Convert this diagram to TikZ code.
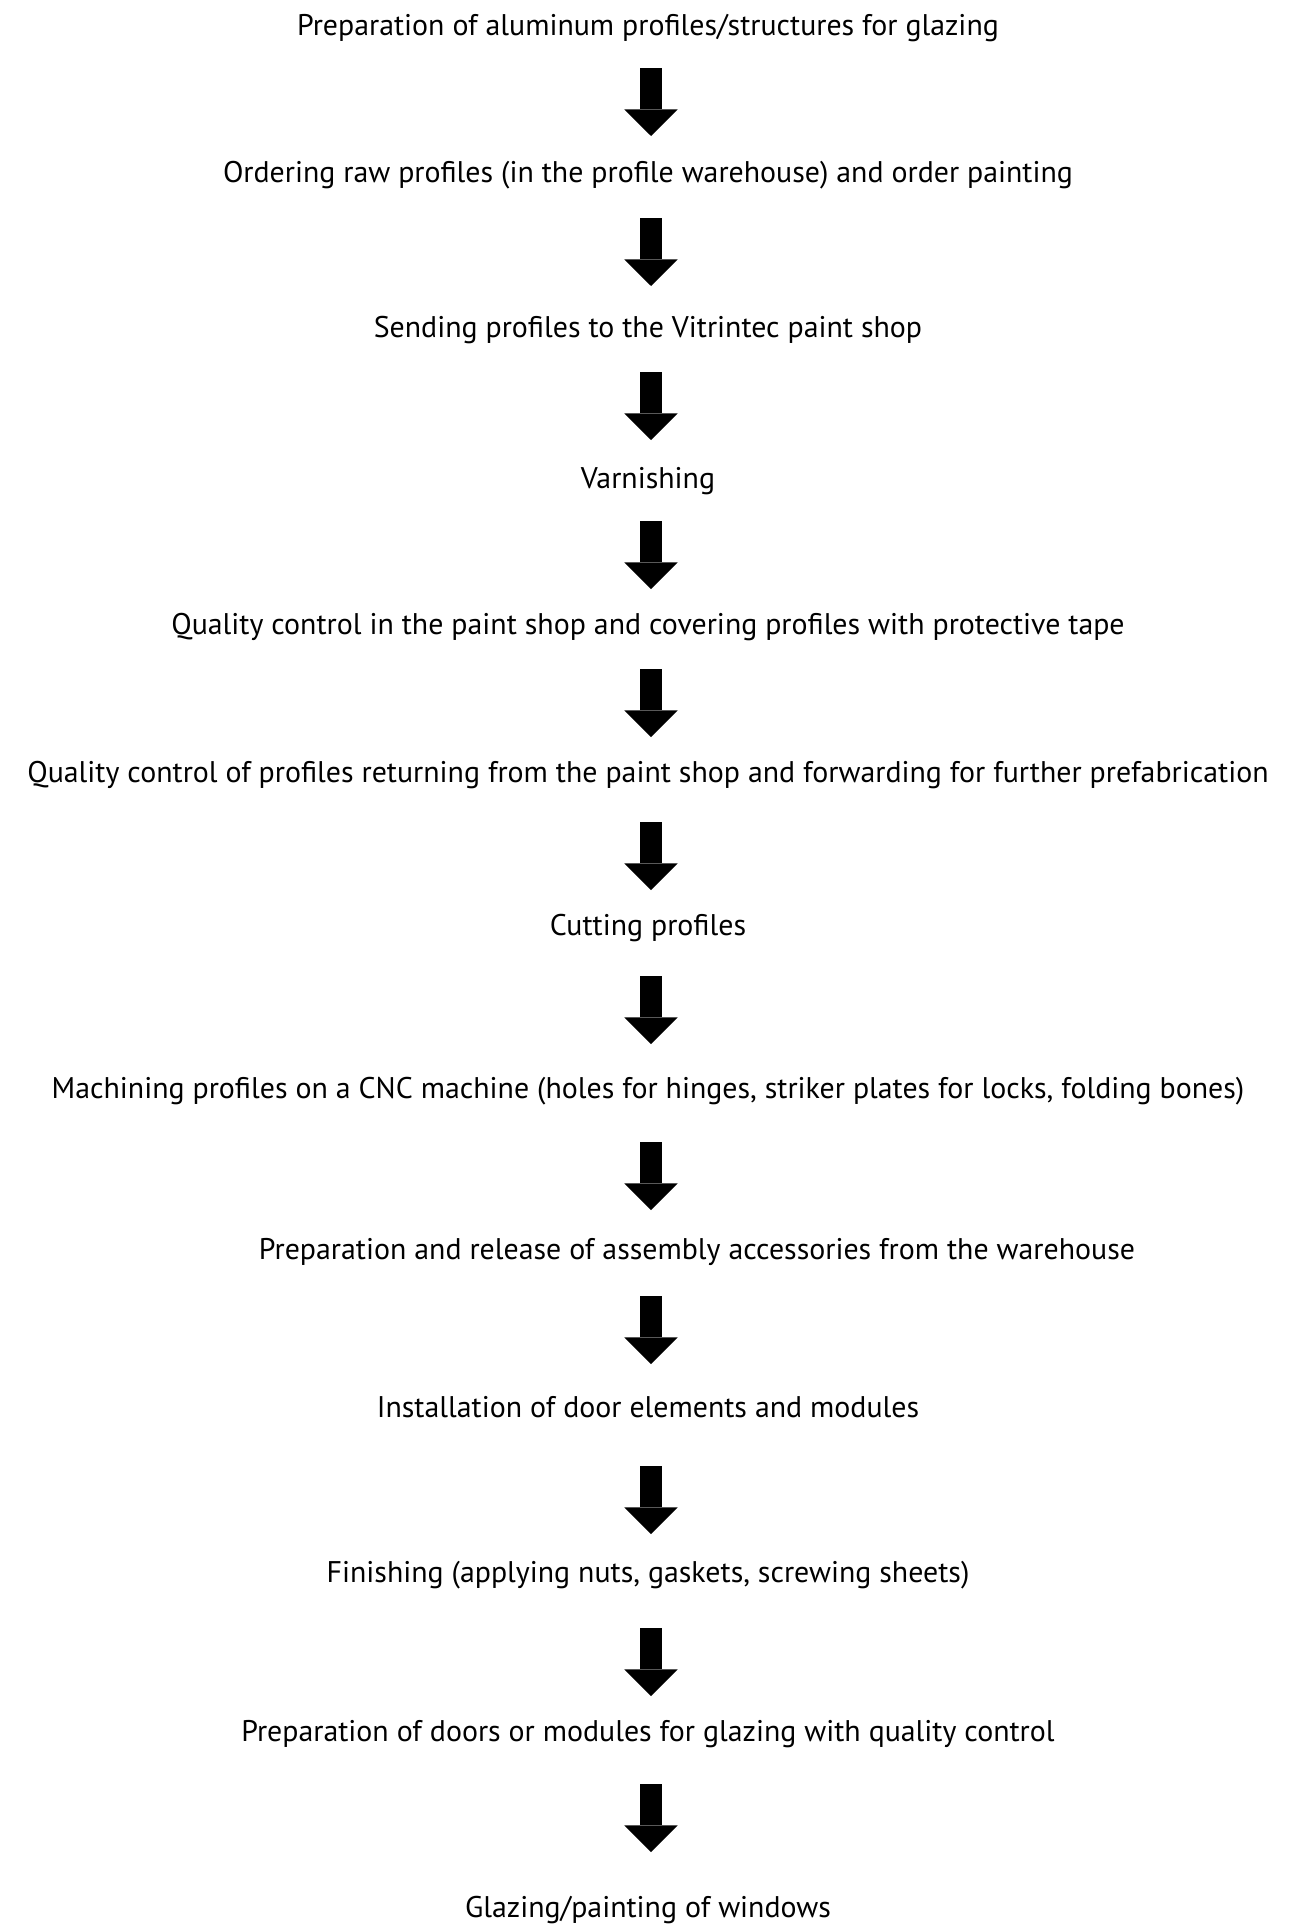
\documentclass[tikz,border=0pt]{standalone}
\usepackage{fontspec}
\setmainfont{PT Sans}
\usetikzlibrary{arrows.meta}
\usetikzlibrary{calc}

\begin{document}
\begin{tikzpicture}[
  x=0.02cm, y=-0.02cm,
  steptext/.style={anchor=base, inner sep=0pt, font=\fontsize{17}{20}\selectfont},
  flowarrow/.style={line width=12.3pt,
    -{Triangle[width=30.3pt, length=15.1pt, line width=0pt]}},
]
  \useasboundingbox (0,0) rectangle (1299,1927);
  \coordinate (axis) at (651,0);
  \node[steptext] (t1) at (648,35) {Preparation of aluminum profiles/structures for glazing};
  \node[steptext] (t2) at (648,182) {Ordering raw profiles (in the profile warehouse) and order painting};
  \node[steptext] (t3) at (648,337) {Sending profiles to the Vitrintec paint shop};
  \node[steptext] (t4) at (648,488) {Varnishing};
  \node[steptext] (t5) at (648,634) {Quality control in the paint shop and covering profiles with protective tape};
  \node[steptext] (t6) at (648,782) {Quality control of profiles returning from the paint shop and forwarding for further prefabrication};
  \node[steptext] (t7) at (648,935) {Cutting profiles};
  \node[steptext] (t8) at (648,1098) {Machining profiles on a CNC machine (holes for hinges, striker plates for locks, folding bones)};
  \node[steptext] (t9) at (697,1259) {Preparation and release of assembly accessories from the warehouse};
  \node[steptext] (t10) at (648,1417) {Installation of door elements and modules};
  \node[steptext] (t11) at (648,1582) {Finishing (applying nuts, gaskets, screwing sheets)};
  \node[steptext] (t12) at (648,1741) {Preparation of doors or modules for glazing with quality control};
  \node[steptext] (t13) at (648,1917) {Glazing/painting of windows};
  % arrows between the steps
  \foreach \i/\j/\ga/\gb in {1/2/33/46, 2/3/36/51, 3/4/35/48, 4/5/33/45,
    5/6/35/45, 6/7/40/45, 7/8/41/54, 8/9/44/49, 9/10/37/53,
    10/11/49/48, 11/12/46/45, 12/13/43/65}
    \draw[flowarrow] ($(t\i.base -| axis)+(0,\ga)$) -- ($(t\j.base -| axis)-(0,\gb)$);
\end{tikzpicture}
\end{document}
